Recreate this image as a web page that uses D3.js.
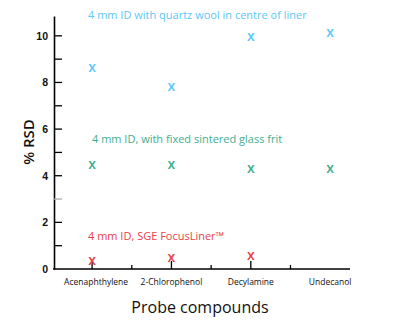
<!DOCTYPE html>
<html>
<head>
<meta charset="utf-8">
<script src="https://cdn.jsdelivr.net/npm/d3@7"></script>
<style>
  body { margin: 0; background: #fff; }
  svg { font-family: "Open Sans", sans-serif; }
</style>
</head>
<body>
<div id="container"></div>
<script>
// data
const compounds = ["Acenaphthylene", "2-Chlorophenol", "Decylamine", "Undecanol"];
const quartzWool = [8.6, 7.8, 9.95, 10.1];
const sinteredFrit = [4.47, 4.47, 4.27, 4.27];
const focusLiner = [0.35, 0.47, 0.55, null];
const yTicks = [0, 2, 4, 6, 8, 10];
const yMinor = [1, 3, 5, 7, 9];

const series = [
  {name: "4 mm ID with quartz wool in centre of liner", values: quartzWool, color: "#5cc8f7", lx: 88, ly: 19},
  {name: "4 mm ID, with fixed sintered glass frit", values: sinteredFrit, color: "#3fae8f", lx: 92, ly: 143},
  {name: "4 mm ID, SGE FocusLiner\u2122", values: focusLiner, color: "#e8414a", lx: 88, ly: 240}
];

const width = 400, height = 323;

const x = d3.scaleLinear().domain([-0.48, 3.25]).range([54, 350]);
const y = d3.scaleLinear().domain([0, 10.85]).range([269, 16]);

const svg = d3.select("#container").append("svg")
  .attr("width", width)
  .attr("height", height);

// y axis
const yAxis = svg.append("g")
  .attr("transform", `translate(${x(-0.48)},0)`)
  .call(d3.axisLeft(y).tickValues(yTicks).tickSize(0).tickPadding(6));
yAxis.select(".domain").attr("stroke", "#000").attr("stroke-width", 1.6);
yAxis.selectAll("text").attr("font-size", 10.5).attr("font-weight", 600).attr("fill", "#111");

// inward ticks
svg.append("g").selectAll("line.major")
  .data(yTicks.filter(d => d > 0))
  .join("line")
  .attr("x1", x(-0.48)).attr("x2", x(-0.48) + 8)
  .attr("y1", d => y(d)).attr("y2", d => y(d))
  .attr("stroke", "#000").attr("stroke-width", 1.3);
svg.append("g").selectAll("line.minor")
  .data(yMinor)
  .join("line")
  .attr("x1", x(-0.48)).attr("x2", x(-0.48) + 8)
  .attr("y1", d => y(d)).attr("y2", d => y(d))
  .attr("stroke", d => d === 3 ? "#aaa" : "#000").attr("stroke-width", 1.3);

// x axis
svg.append("line")
  .attr("x1", x(-0.48) - 1).attr("x2", x(3.25))
  .attr("y1", y(0)).attr("y2", y(0))
  .attr("stroke", "#000").attr("stroke-width", 1.6);
svg.append("g").selectAll("line")
  .data([0, 0.5, 1, 1.5, 2, 2.5])
  .join("line")
  .attr("x1", d => x(d)).attr("x2", d => x(d))
  .attr("y1", y(0)).attr("y2", d => y(0) - (Number.isInteger(d) ? 8 : 4))
  .attr("stroke", "#000").attr("stroke-width", 1.3);
svg.append("g").selectAll("text")
  .data(compounds)
  .join("text")
  .attr("x", (d, i) => x(i) + (i === 0 ? 4 : 0))
  .attr("y", 285)
  .attr("text-anchor", "middle")
  .attr("font-size", 8.5)
  .attr("font-weight", 500)
  .attr("fill", "#111")
  .text(d => d);

// axis titles
svg.append("text")
  .attr("x", 200).attr("y", 313)
  .attr("text-anchor", "middle")
  .attr("font-size", 16)
  .attr("font-weight", 500)
  .attr("fill", "#111")
  .text("Probe compounds");
svg.append("text")
  .attr("transform", "translate(34,142) rotate(-90)")
  .attr("text-anchor", "middle")
  .attr("font-size", 15)
  .attr("font-weight", 600)
  .attr("fill", "#111")
  .text("% RSD");

// series marks + labels
series.forEach(s => {
  const g = svg.append("g");
  g.selectAll("text.mark")
    .data(s.values.map((v, i) => ({i, v})).filter(d => d.v != null))
    .join("text")
    .attr("class", "mark")
    .attr("x", d => x(d.i))
    .attr("y", d => y(d.v) + 4)
    .attr("text-anchor", "middle")
    .attr("font-size", 14)
    .attr("font-weight", 600)
    .attr("fill", s.color)
    .text("x");
  g.append("text")
    .attr("x", s.lx).attr("y", s.ly)
    .attr("font-size", 11)
    .attr("font-weight", 500)
    .attr("fill", s.color)
    .text(s.name);
});
</script>
</body>
</html>
